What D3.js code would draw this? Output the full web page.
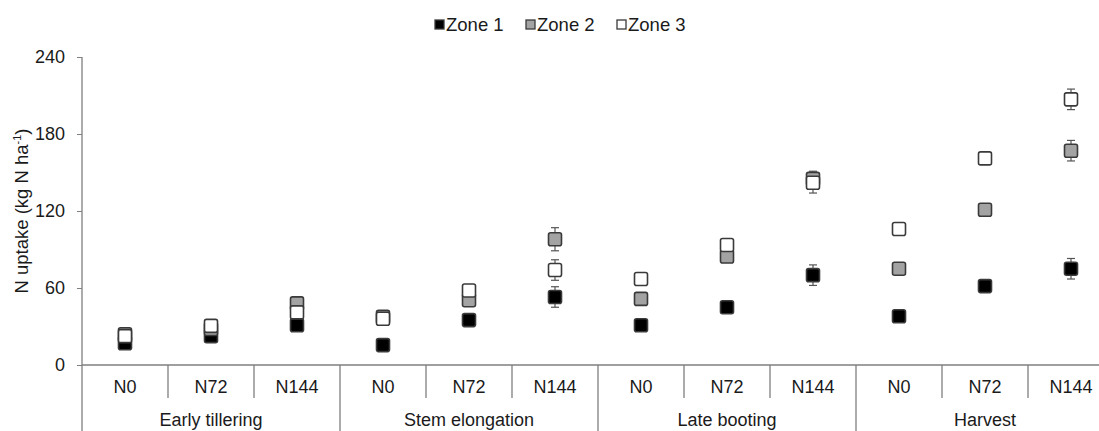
<!DOCTYPE html>
<html>
<head>
<meta charset="utf-8">
<script src="https://cdn.jsdelivr.net/npm/d3@7"></script>
<style>
  html, body { margin: 0; padding: 0; background: #fff; }
  svg { display: block; font-family: "Liberation Sans", Arial, sans-serif; }
</style>
</head>
<body>
<svg id="chart" width="1099" height="431"></svg>
<script>
// ---- data ----
const stages = ["Early tillering", "Stem elongation", "Late booting", "Harvest"];
const rates = ["N0", "N72", "N144"];
const seriesNames = ["Zone 1", "Zone 2", "Zone 3"];
const zone1 = [17, 22.5, 31, 15.5, 35, 53, 31, 45, 70, 38, 61.5, 75];
const zone2 = [24, 28, 48, 37.5, 50.5, 98, 51.5, 84.5, 145, 75, 121, 167];
const zone3 = [22.5, 30.5, 41, 36, 58, 74, 67, 93.5, 142, 106, 161, 207];
const zone1Err = [1.5, 1.5, 1.5, 1, 2, 8, 2, 1, 8, 2, 2, 8];
const zone2Err = [1, 1, 1, 1, 2, 9, 2, 2, 6, 1.5, 3, 8];
const zone3Err = [1, 1, 1, 1, 1, 8, 1, 1, 8, 1, 1, 8];
const yTicks = [0, 60, 120, 180, 240];

const fills = ["#000000", "#a3a3a3", "#ffffff"];
const values = [zone1, zone2, zone3];
const errs = [zone1Err, zone2Err, zone3Err];

const svg = d3.select("#chart");
const W = 1099, H = 431;
const mLeft = 82, mTop = 57, baseY = 365;

const cats = [];
stages.forEach(s => rates.forEach(r => cats.push(s + "|" + r)));

const x = d3.scaleBand().domain(cats).range([mLeft, mLeft + 12 * 86]).padding(0);
const y = d3.scaleLinear().domain([0, 240]).range([baseY, mTop]);

const axisColor = "#7f7f7f";

// y axis
const yAxis = svg.append("g").attr("transform", `translate(${mLeft},0)`)
  .call(d3.axisLeft(y).tickValues(yTicks).tickSize(5).tickSizeOuter(0).tickPadding(12));
yAxis.select(".domain").remove();
yAxis.selectAll(".tick line").attr("stroke", axisColor);
yAxis.selectAll(".tick text").attr("font-size", 18).attr("fill", "#1a1a1a")
  .attr("font-family", "Liberation Sans, Arial, sans-serif");
svg.append("line").attr("x1", mLeft).attr("x2", mLeft)
  .attr("y1", y(240)).attr("y2", H).attr("stroke", axisColor).attr("stroke-width", 1.3);

// x axis baseline
svg.append("line").attr("x1", mLeft).attr("x2", W)
  .attr("y1", y(0)).attr("y2", y(0)).attr("stroke", axisColor).attr("stroke-width", 1.3);

// separators
cats.forEach((c, i) => {
  if (i === 0) return;
  const xx = x(c);
  const isGroup = i % 3 === 0;
  svg.append("line").attr("x1", xx).attr("x2", xx)
    .attr("y1", y(0)).attr("y2", isGroup ? H : 398)
    .attr("stroke", axisColor).attr("stroke-width", 1.3);
});

// category labels
svg.append("g").selectAll("text").data(cats).join("text")
  .attr("x", d => x(d) + x.bandwidth() / 2)
  .attr("y", 393)
  .attr("text-anchor", "middle")
  .attr("font-size", 18).attr("fill", "#1a1a1a")
  .text(d => d.split("|")[1]);

// group labels
svg.append("g").selectAll("text").data(stages).join("text")
  .attr("x", s => x(s + "|N0") + x.bandwidth() * 1.5)
  .attr("y", 426)
  .attr("text-anchor", "middle")
  .attr("font-size", 18).attr("fill", "#1a1a1a")
  .text(s => s);

// y axis title
svg.append("text")
  .attr("transform", `translate(28,${(y(240) + y(0)) / 2}) rotate(-90)`)
  .attr("text-anchor", "middle")
  .attr("font-size", 18.5).attr("fill", "#1a1a1a")
  .call(t => {
    t.append("tspan").text("N uptake (kg N ha");
    t.append("tspan").attr("font-size", 11).attr("dy", -7).text("-1");
    t.append("tspan").attr("dy", 7).text(")");
  });

// error bars
const errG = svg.append("g");
values.forEach((vals, si) => {
  cats.forEach((c, i) => {
    const cx = x(c) + x.bandwidth() / 2;
    const v = vals[i], e = errs[si][i];
    const y1 = y(v + e), y2 = y(v - e);
    errG.append("line").attr("x1", cx).attr("x2", cx).attr("y1", y1).attr("y2", y2)
      .attr("stroke", "#555").attr("stroke-width", 1.2);
    [y1, y2].forEach(yy => errG.append("line").attr("x1", cx - 4).attr("x2", cx + 4)
      .attr("y1", yy).attr("y2", yy).attr("stroke", "#555").attr("stroke-width", 1.2));
  });
});

// markers
const ms = 13;
values.forEach((vals, si) => {
  svg.append("g").selectAll("rect").data(vals).join("rect")
    .attr("x", (d, i) => x(cats[i]) + x.bandwidth() / 2 - ms / 2)
    .attr("y", d => y(d) - ms / 2)
    .attr("width", ms).attr("height", ms)
    .attr("rx", 2)
    .attr("fill", fills[si])
    .attr("stroke", "#3a3a3a").attr("stroke-width", 1.6);
});

// legend
const legendX = [435, 526, 617];
const lg = svg.append("g");
seriesNames.forEach((n, i) => {
  lg.append("rect").attr("x", legendX[i]).attr("y", 20).attr("width", 9).attr("height", 9)
    .attr("fill", fills[i]).attr("stroke", "#3a3a3a").attr("stroke-width", 1.3);
  lg.append("text").attr("x", legendX[i] + 11).attr("y", 31)
    .attr("font-size", 18.5).attr("fill", "#1a1a1a").text(n);
});
</script>
</body>
</html>
